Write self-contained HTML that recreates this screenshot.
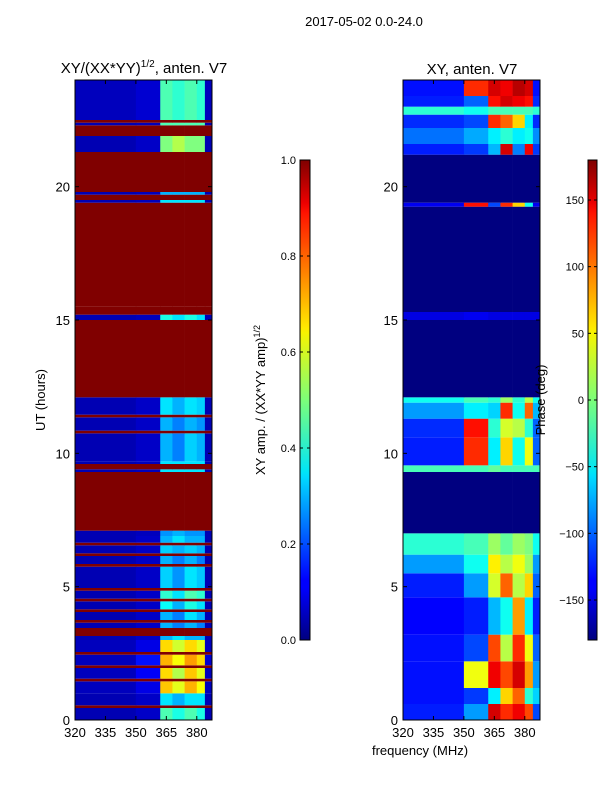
<!DOCTYPE html>
<html><head><meta charset="utf-8"><style>
body{margin:0;background:#fff;width:600px;height:800px;overflow:hidden}
svg text{font-family:"Liberation Sans","DejaVu Sans",sans-serif;fill:#000}
</style></head><body>
<svg id="fig" width="600" height="800" viewBox="0 0 600 800" xmlns="http://www.w3.org/2000/svg">
<defs>
<linearGradient id="jet" x1="0" y1="1" x2="0" y2="0">
<stop offset="0" stop-color="#00007f"/><stop offset="0.11" stop-color="#0000ff"/><stop offset="0.125" stop-color="#0000ff"/>
<stop offset="0.34" stop-color="#00dbff"/><stop offset="0.35" stop-color="#00e5f7"/><stop offset="0.5" stop-color="#7cff79"/>
<stop offset="0.64" stop-color="#f7f400"/><stop offset="0.65" stop-color="#ffea00"/><stop offset="0.89" stop-color="#ff1300"/>
<stop offset="0.91" stop-color="#ed0000"/><stop offset="1" stop-color="#7f0000"/>
</linearGradient>
</defs>
<text x="364" y="26" font-size="13" text-anchor="middle">2017-05-02 0.0-24.0</text>
<g id="p1"></g>
<g id="p2"></g>
<text x="144" y="73" font-size="15" text-anchor="middle">XY/(XX*YY)<tspan font-size="10" dy="-6">1/2</tspan><tspan dy="6">, anten. V7</tspan></text>
<text x="472" y="74" font-size="15" text-anchor="middle">XY, anten. V7</text>
<text transform="translate(45,400) rotate(-90)" font-size="13" text-anchor="middle">UT (hours)</text>
<text x="420" y="755" font-size="13" text-anchor="middle">frequency (MHz)</text>
<text transform="translate(265,400) rotate(-90)" font-size="13" text-anchor="middle">XY amp. / (XX*YY amp)<tspan font-size="9" dy="-5">1/2</tspan></text>
<g id="cb1"></g>
<g id="cb2"></g>
<text transform="translate(545,400) rotate(-90)" font-size="13" text-anchor="middle">Phase (deg)</text>
</svg>
<script>
// frequency group boundaries (MHz)
const groupEdges=[320,350,362,368,374,380,384,387.5];
const ampStarts=[0,0.45,0.55,1.0,1.45,1.55,1.95,2.05,2.45,2.55,3.0,3.15,3.45,3.65,3.75,4.05,4.15,4.45,4.55,4.85,4.95,5.75,5.85,6.15,6.25,6.55,6.65,6.9,7.1,9.3,9.4,9.6,9.7,10.75,10.85,11.35,11.45,12.1,15.0,15.2,15.5,19.4,19.5,19.7,19.8,21.3,21.9,22.3,22.4,22.5];
const ampEnds=[0.45,0.55,1.0,1.45,1.55,1.95,2.05,2.45,2.55,3.0,3.15,3.45,3.65,3.75,4.05,4.15,4.45,4.55,4.85,4.95,5.75,5.85,6.15,6.25,6.55,6.65,6.9,7.1,9.3,9.4,9.6,9.7,10.75,10.85,11.35,11.45,12.1,15.0,15.2,15.5,19.4,19.5,19.7,19.8,21.3,21.9,22.3,22.4,22.5,24];
const ampVals=[
[0.05,0.07,0.45,0.4,0.45,0.4,0.05],[1,1,1,1,1,1,1],[0.05,0.07,0.35,0.3,0.35,0.35,0.05],[0.06,0.1,0.68,0.6,0.7,0.62,0.06],[1,1,1,1,1,1,1],
[0.06,0.12,0.66,0.55,0.68,0.6,0.06],[1,1,1,1,1,1,1],[0.06,0.14,0.7,0.62,0.72,0.66,0.08],[1,1,1,1,1,1,1],[0.06,0.1,0.66,0.58,0.66,0.6,0.06],
[0.05,0.07,0.3,0.35,0.3,0.3,0.05],[1,1,1,1,1,1,1],[0.05,0.07,0.3,0.25,0.3,0.25,0.05],[1,1,1,1,1,1,1],[0.05,0.07,0.3,0.25,0.35,0.3,0.05],
[1,1,1,1,1,1,1],[0.05,0.07,0.38,0.3,0.4,0.35,0.05],[1,1,1,1,1,1,1],[0.05,0.07,0.42,0.35,0.45,0.42,0.05],[1,1,1,1,1,1,1],
[0.05,0.07,0.33,0.27,0.35,0.32,0.05],[1,1,1,1,1,1,1],[0.05,0.07,0.3,0.25,0.3,0.25,0.05],[1,1,1,1,1,1,1],[0.05,0.07,0.33,0.3,0.33,0.3,0.05],
[1,1,1,1,1,1,1],[0.05,0.07,0.3,0.35,0.3,0.3,0.05],[0.05,0.06,0.27,0.3,0.27,0.27,0.05],[1,1,1,1,1,1,1],[0.05,0.06,0.35,0.35,0.35,0.35,0.05],
[1,1,1,1,1,1,1],[0.05,0.06,0.35,0.35,0.35,0.35,0.05],[0.05,0.07,0.3,0.25,0.33,0.3,0.05],[1,1,1,1,1,1,1],[0.05,0.07,0.3,0.25,0.3,0.27,0.05],
[1,1,1,1,1,1,1],[0.05,0.07,0.35,0.3,0.35,0.33,0.05],[1,1,1,1,1,1,1],[0.05,0.06,0.4,0.35,0.4,0.35,0.05],[1,1,1,1,1,1,1],
[1,1,1,1,1,1,1],[0.05,0.06,0.35,0.35,0.35,0.35,0.05],[1,1,1,1,1,1,1],[0.05,0.06,0.3,0.3,0.3,0.3,0.05],[1,1,1,1,1,1,1],
[0.05,0.07,0.5,0.55,0.5,0.5,0.05],[1,1,1,1,1,1,1],[0.05,0.06,0.45,0.45,0.45,0.45,0.05],[1,1,1,1,1,1,1],[0.06,0.08,0.45,0.42,0.45,0.42,0.06]];
// right panel: phase in degrees
const phStarts=[0,0.6,1.2,2.2,3.2,4.6,5.5,6.2,7.0,9.3,9.55,10.6,11.3,11.9,12.1,15.0,15.3,19.25,19.4,21.2,21.6,22.2,22.7,23.0,23.4];
const phEnds=[0.6,1.2,2.2,3.2,4.6,5.5,6.2,7.0,9.3,9.55,10.6,11.3,11.9,12.1,15.0,15.3,19.25,19.4,21.2,21.6,22.2,22.7,23.0,23.4,24];
const phVals=[
[-125,-80,150,120,140,110,-110],[-130,-115,-50,60,100,-30,-60],[-130,40,140,110,150,80,-80],[-130,-110,110,20,120,40,-100],
[-135,-125,-70,-40,80,-50,-125],[-125,-80,30,100,20,60,-100],[-80,-40,50,20,40,10,-80],[-30,-20,10,-10,10,0,-40],
[-180,-180,-180,-180,-180,-180,-180],[-20,-20,-10,-20,-20,-20,-20],[-125,120,-50,60,-40,40,-100],[-120,130,-30,30,20,-30,-100],
[-80,-50,-60,120,-40,100,-70],[-40,-20,-30,10,-30,20,-40],[-180,-180,-180,-180,-180,-180,-180],[-145,-140,-145,-145,-145,-145,-145],
[-180,-180,-180,-180,-180,-180,-180],[-140,130,-110,120,60,-40,-140],[-180,-180,-180,-180,-180,-180,-180],
[-125,-115,-70,150,-90,140,-115],[-95,-75,-50,-30,-50,-40,-85],[-120,-110,120,100,60,-50,-120],[-30,-40,-20,-20,-20,-20,-30],
[-125,-100,130,150,140,130,-120],[-130,120,150,140,160,150,-130]];
const ampTickVals=[0,0.2,0.4,0.6,0.8,1.0];
const phaseTickVals=[-150,-100,-50,0,50,100,150];
const utTicks=[0,5,10,15,20];
const freqTicks=[320,335,350,365,380];

function jet(v){v=Math.max(0,Math.min(1,v));
 const c=(x)=>Math.round(255*Math.max(0,Math.min(1,x)));
 const r=c(1.5-Math.abs(4*v-3)), g=c(1.5-Math.abs(4*v-2)), b=c(1.5-Math.abs(4*v-1));
 return `rgb(${r},${g},${b})`;}
const NS='http://www.w3.org/2000/svg';
function mk(tag,attrs,parent){const e=document.createElementNS(NS,tag);for(const k in attrs)e.setAttribute(k,attrs[k]);parent.appendChild(e);return e;}
const Y0=720,Y1=80;
const yScale=t=>Y0-(t/24)*(Y0-Y1);
function panel(g,x0,x1,starts,ends,vals,norm,name){
 const xScale=f=>x0+(f-320)*(x1-x0)/(387.5-320);
 for(let i=0;i<starts.length;i++){
  for(let j=0;j<groupEdges.length-1;j++){
   const xa=xScale(groupEdges[j]),xb=xScale(groupEdges[j+1]);
   const ya=yScale(ends[i]),yb=yScale(starts[i]);
   const r=mk('rect',{x:xa,y:ya,width:xb-xa+0.3,height:Math.max(0.8,yb-ya),fill:jet(norm(vals[i][j]))},g);
   
   
  }
 }
 const f=mk('rect',{x:x0,y:Y1,width:x1-x0,height:Y0-Y1,fill:'none',stroke:'#000','stroke-width':1},g);
 
 
 utTicks.forEach(t=>{const y=yScale(t);
  mk('line',{x1:x0,x2:x0+4,y1:y,y2:y,stroke:'#000'},g);mk('line',{x1:x1,x2:x1-4,y1:y,y2:y,stroke:'#000'},g);
  const tx=mk('text',{x:x0-5,y:y+5,'font-size':13,'text-anchor':'end'},g);tx.textContent=t;
  
  });
 freqTicks.forEach(fq=>{const x=xScale(fq);
  mk('line',{x1:x,x2:x,y1:Y0,y2:Y0-4,stroke:'#000'},g);mk('line',{x1:x,x2:x,y1:Y1,y2:Y1+4,stroke:'#000'},g);
  const tx=mk('text',{x:x,y:Y0+17,'font-size':13,'text-anchor':'middle'},g);tx.textContent=fq;
  
  });
}
panel(document.getElementById('p1'),75,212,ampStarts,ampEnds,ampVals,v=>v,'amp');
panel(document.getElementById('p2'),403,540,phStarts,phEnds,phVals,v=>(v+180)/360,'phase');
function colorbar(g,x,w,ticks,lo,hi,fmt){
 mk('rect',{x:x,y:160,width:w,height:480,fill:'url(#jet)',stroke:'#000','stroke-width':1},g);
 ticks.forEach(t=>{const y=640-(t-lo)/(hi-lo)*480;
  mk('line',{x1:x,x2:x+3,y1:y,y2:y,stroke:'#000'},g);mk('line',{x1:x+w,x2:x+w-3,y1:y,y2:y,stroke:'#000'},g);
  const tx=mk('text',{x:x-4,y:y+4,'font-size':11,'text-anchor':'end'},g);tx.textContent=fmt(t);
  
  });
}
colorbar(document.getElementById('cb1'),300,10,ampTickVals,0,1,t=>t.toFixed(1));
colorbar(document.getElementById('cb2'),588,9,phaseTickVals,-180,180,t=>String(t).replace('-','\u2212'));
</script>
</body></html>
